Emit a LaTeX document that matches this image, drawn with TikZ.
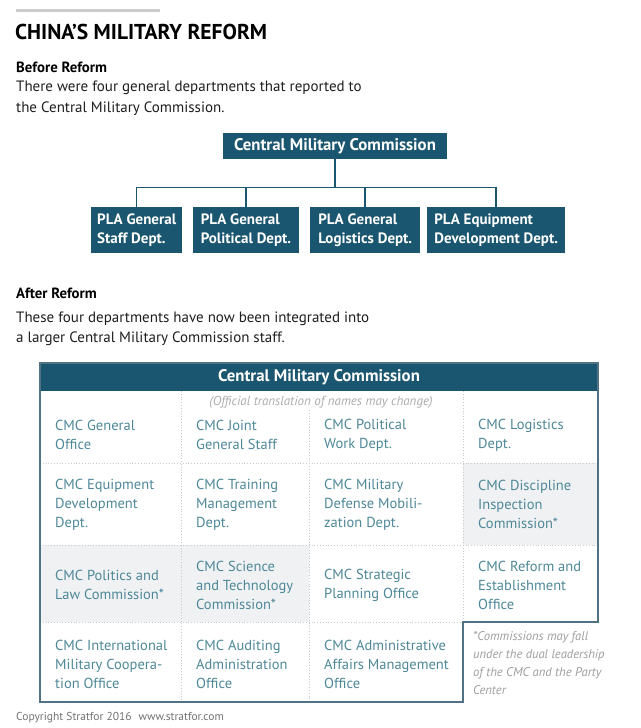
\documentclass[tikz,border=0pt]{standalone}
\usepackage{fontspec}
\setmainfont{PT Sans}

\definecolor{cmcblue}{RGB}{27,86,112}
\definecolor{celltext}{RGB}{78,136,152}
\definecolor{cellshade}{RGB}{240,241,243}
\definecolor{rulegrey}{RGB}{196,204,208}
\definecolor{framegrey}{RGB}{80,114,130}
\definecolor{notegrey}{RGB}{158,158,158}

\tikzset{
  darkbox/.style={fill=cmcblue, text=white, inner sep=0pt,
    font=\bfseries\fontsize{15}{18.5}\selectfont},
  cell/.style={anchor=west, align=left, inner sep=0pt, text=celltext,
    font=\fontsize{14.5}{19}\selectfont},
  divider/.style={rulegrey, dotted, line width=0.8pt},
  body/.style={anchor=north west, align=left, inner sep=0pt, text=black!88}
}

\begin{document}
\begin{tikzpicture}[x=1pt, y=-1pt]
    \useasboundingbox[fill=white] (0,0) rectangle (640,728);

    % heading
    \draw[line width=3pt, black!20] (16,10) -- (160,10);
    \node[anchor=base west, inner sep=0pt, font=\bfseries\fontsize{21.5}{24}\selectfont] (title) at (15,39) {CHINA’S MILITARY REFORM};

    % before reform
    \node[anchor=base west, inner sep=0pt, font=\bfseries\fontsize{14.8}{18}\selectfont] (before) at (16,72.5) {Before Reform};
    \node[body, font=\fontsize{15}{21}\selectfont] (beforetext) at (16,81) {There were four general departments that reported to\\the Central Military Commission.};

    \node[darkbox, minimum width=224pt, minimum height=26pt, font=\bfseries\fontsize{16.8}{18}\selectfont] (cmc) at (335,146) {Central Military Commission};

    \node[darkbox, anchor=north west, minimum width=91pt, minimum height=46pt, align=left] (staff) at (91,207) {PLA General\\Staff Dept.};
    \node[darkbox, anchor=north west, minimum width=105.5pt, minimum height=46pt, align=left] (political) at (193,207) {PLA General\\Political Dept.};
    \node[darkbox, anchor=north west, minimum width=110pt, minimum height=46pt, align=left] (logistics) at (310,207) {PLA General\\Logistics Dept.};
    \node[darkbox, anchor=north west, minimum width=138pt, minimum height=46pt, align=left] (equipment) at (427,207) {PLA Equipment\\Development Dept.};

    \coordinate (bus) at (cmc.south |- 0,187.5);
    \draw[cmcblue, line width=1.5pt] (cmc.south) -- (bus);
    \draw[cmcblue, line width=1.5pt] (bus) -| (staff.north);
    \draw[cmcblue, line width=1.5pt] (bus) -| (political.north);
    \draw[cmcblue, line width=1.5pt] (bus) -| (logistics.north);
    \draw[cmcblue, line width=1.5pt] (bus) -| (equipment.north);

    % after reform
    \node[anchor=base west, inner sep=0pt, font=\bfseries\fontsize{14.8}{18}\selectfont] (after) at (16,298) {After Reform};
    \node[body, font=\fontsize{15}{20}\selectfont] (aftertext) at (16,312) {These four departments have now been integrated into\\a larger Central Military Commission staff.};

    % shaded cells
    \fill[cellshade] (463,463) rectangle (598,545);
    \fill[cellshade] (40,545) rectangle (309,622);

    % dotted grid
    \draw[divider] (40,463) -- (598,463);
    \draw[divider] (40,545) -- (598,545);
    \draw[divider] (40,622) -- (463,622);
    \draw[divider] (181,391) -- (181,702);
    \draw[divider] (309,410) -- (309,702);
    \draw[divider] (463,391) -- (463,622);

    % header and frame
    \fill[cmcblue] (40,363) rectangle (598,391);
    \draw[framegrey, line width=2pt] (40,363) -- (598,363) -- (598,622) -- (463,622) -- (463,702) -- (40,702) -- cycle;
    \node[text=white, inner sep=0pt, font=\bfseries\fontsize{16.8}{18}\selectfont] (staffhead) at (319,377.5) {Central Military Commission};
    \node[anchor=base, inner sep=0pt, text=notegrey!85, font=\itshape\fontsize{13}{14}\selectfont] (naming) at (321,405) {(Official translation of names may change)};

    % row 1
    \node[cell] (general) at (55,435) {CMC General\\Office};
    \node[cell] (joint) at (196,435) {CMC Joint\\General Staff};
    \node[cell] (polwork) at (324,435) {CMC Political\\Work Dept.};
    \node[cell] (logdept) at (478,435) {CMC Logistics\\Dept.};
    % row 2
    \node[cell] (equipdept) at (55,505) {CMC Equipment\\Development\\Dept.};
    \node[cell] (training) at (196,505) {CMC Training\\Management\\Dept.};
    \node[cell] (mobil) at (324,505) {CMC Military\\Defense Mobili-\\zation Dept.};
    \node[cell] (discipline) at (478,504) {CMC Discipline\\Inspection\\Commission*};
    % row 3
    \node[cell] (politics) at (55,585) {CMC Politics and\\Law Commission*};
    \node[cell] (science) at (196,585) {CMC Science\\and Technology\\Commission*};
    \node[cell] (strategic) at (324,585) {CMC Strategic\\Planning Office};
    \node[cell] (reform) at (478,585) {CMC Reform and\\Establishment\\Office};
    % row 4
    \node[cell] (intl) at (55,664) {CMC International\\Military Coopera-\\tion Office};
    \node[cell] (auditing) at (196,664) {CMC Auditing\\Administration\\Office};
    \node[cell] (affairs) at (324,664) {CMC Administrative\\Affairs Management\\Office};

    \node[body, text=notegrey, font=\itshape\fontsize{12.6}{18.2}\selectfont] (footnote) at (473,631) {*Commissions may fall\\under the dual leadership\\of the CMC and the Party\\Center};

    \node[anchor=base west, inner sep=0pt, text=black!55, font=\fontsize{11.5}{13}\selectfont] (copyright) at (16,720.5) {Copyright Stratfor 2016\hspace{7pt}www.stratfor.com};
\end{tikzpicture}
\end{document}
